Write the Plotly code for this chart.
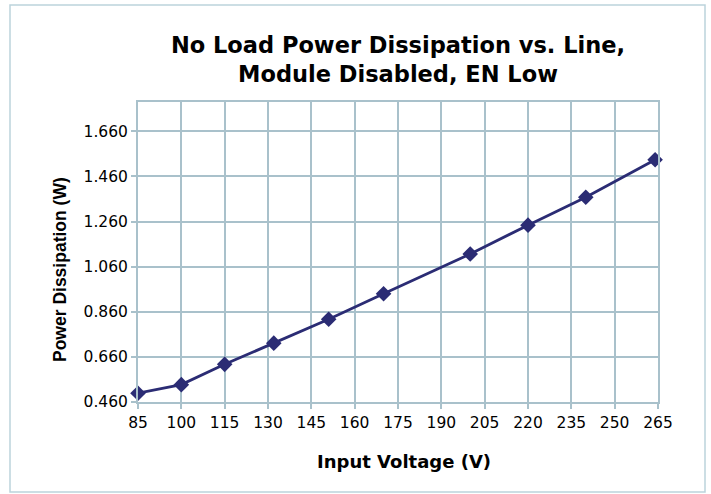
import plotly.graph_objects as go

voltage = [85, 100, 115, 132, 151, 170, 200, 220, 240, 264]
power = [0.499, 0.537, 0.627, 0.721, 0.827, 0.940, 1.116, 1.244, 1.368, 1.534]
x_ticks = list(range(85, 266, 15))
y_ticks = [0.46, 0.66, 0.86, 1.06, 1.26, 1.46, 1.66]

W, H = 711, 494
L, R, T, B = 138, 53, 102, 92
pw, ph = W - L - R, H - T - B

fig = go.Figure()
fig.add_trace(go.Scatter(
    x=voltage, y=power, mode="lines+markers",
    line=dict(color="#2B2C74", width=2.8),
    marker=dict(symbol="diamond", size=12, color="#2B2C74"),
    showlegend=False, cliponaxis=False,
))

grid = "#A9C1CB"
font = "DejaVu Sans, Liberation Sans, Arial, sans-serif"
fig.update_layout(
    width=W, height=H,
    margin=dict(l=L, r=R, t=T, b=B),
    paper_bgcolor="white", plot_bgcolor="white",
    title=dict(text="<b>No Load Power Dissipation vs. Line,<br>Module Disabled, EN Low</b>",
               x=(L + pw / 2) / W, xanchor="center", y=1 - 53 / H, yanchor="top",
               font=dict(family=font, size=22.5, color="black")),
    font=dict(family=font, color="black"),
)
fig.update_xaxes(
    range=[85, 265], tickvals=x_ticks, ticktext=[str(v) for v in x_ticks],
    showgrid=True, gridcolor=grid, gridwidth=1.5,
    showline=True, linecolor=grid, linewidth=2, mirror=True,
    ticks="outside", tickcolor=grid, ticklen=5, tickwidth=1.5,
    tickfont=dict(size=15.5), zeroline=False,
)
fig.update_yaxes(
    range=[0.46, 1.79], tickvals=y_ticks, ticktext=[f"{v:.3f}" for v in y_ticks],
    showgrid=True, gridcolor=grid, gridwidth=1.5,
    showline=True, linecolor=grid, linewidth=2, mirror=True,
    ticks="outside", tickcolor=grid, ticklen=5, tickwidth=1.5,
    tickfont=dict(size=15.5), zeroline=False,
)
# axis titles
fig.add_annotation(text="<b>Input Voltage (V)</b>", xref="paper", yref="paper",
                   x=(404 - L) / pw, y=1 - (461 - T) / ph, showarrow=False,
                   xanchor="center", yanchor="middle",
                   font=dict(family=font, size=18, color="black"))
fig.add_annotation(text="<b>Power Dissipation (W)</b>", xref="paper", yref="paper",
                   x=(60 - L) / pw, y=1 - (270 - T) / ph, showarrow=False, textangle=-90,
                   xanchor="center", yanchor="middle",
                   font=dict(family="Liberation Sans, Arial, sans-serif", size=17.5, color="black"))
# outer chart border
fig.add_shape(type="rect", xref="paper", yref="paper",
              x0=(10 - L) / pw, x1=(705 - L) / pw,
              y0=1 - (492 - T) / ph, y1=1 - (5 - T) / ph,
              line=dict(color="#BCD3DC", width=1.5), fillcolor="rgba(0,0,0,0)")

fig.write_html("out.html", config={"displayModeBar": False},
               post_script="document.body.style.margin='0';")
